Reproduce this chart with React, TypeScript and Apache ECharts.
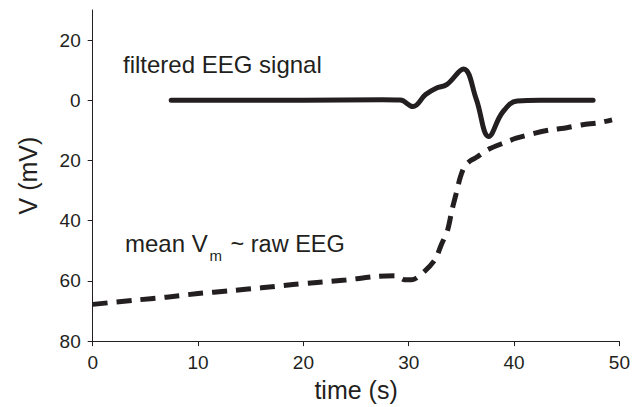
import React, { useEffect, useRef } from "react";
import * as echarts from "echarts";

const xTicks = [0, 10, 20, 30, 40, 50];
const yTicks = [-80, -60, -40, -20, 0, 20];

// filtered EEG signal (time s, mV)
const filteredEEG: [number, number][] = [
  [7.45, 0], [20, 0], [27.5, 0.2], [29.2, 0.1], [30.4, -2.1], [31.6, 1.9], [32.6, 4.0],
  [33.6, 5.2], [35.2, 10.4], [36.4, 0.5], [37.6, -12], [38.9, -4], [40.3, -0.2], [42.5, 0],
  [47.5, 0],
];

// mean Vm ~ raw EEG (time s, mV)
const rawEEG: [number, number][] = [
  [0, -67.8], [4, -66.4], [7, -65.4], [10, -64.2], [13, -63.3], [16, -62.3], [19, -61.2],
  [21, -60.6], [24, -59.7], [27, -58.5], [28.8, -58.3], [29.6, -59.6], [30.3, -59.6],
  [31.5, -56.8], [32.5, -52.9], [33.1, -47.9], [33.7, -43], [34.1, -36.5], [34.5, -31],
  [34.9, -25.5], [35.3, -22], [35.8, -20.2], [36.4, -19], [37.5, -16.4], [39, -14.2],
  [40.2, -12.6], [42, -10.9], [43.5, -9.8], [45, -9.1], [46.5, -8.1], [48, -7.5], [49.3, -6.5],
];

const FONT = "'Liberation Sans', Arial, Helvetica, sans-serif";
const INK = "#231f20";

export default function App() {
  const ref = useRef<HTMLDivElement>(null);
  useEffect(() => {
    if (!ref.current) return;
    const chart = echarts.init(ref.current, undefined, { renderer: "svg" });
    chart.setOption({
      animation: false,
      backgroundColor: "#ffffff",
      grid: { left: 92.7, right: 12.3, top: 10, bottom: 64.3, containLabel: false },
      xAxis: {
        type: "value",
        min: 0,
        max: 50,
        interval: 10,
        name: "time (s)",
        nameLocation: "middle",
        nameGap: 35,
        nameTextStyle: { fontFamily: FONT, fontSize: 25, color: INK },
        axisLine: { show: true, onZero: false, lineStyle: { color: INK, width: 1 } },
        axisTick: { show: true, length: 5, inside: false, lineStyle: { color: INK } },
        axisLabel: { fontFamily: FONT, fontSize: 19, color: INK, margin: 12 },
        splitLine: { show: false },
      },
      yAxis: {
        type: "value",
        min: -80,
        max: 30,
        name: "V (mV)",
        nameLocation: "middle",
        nameGap: 52,
        nameTextStyle: { fontFamily: FONT, fontSize: 25, color: INK },
        axisLine: { show: true, onZero: false, lineStyle: { color: INK, width: 1 } },
        axisTick: { show: true, length: 5, inside: false, customValues: yTicks, lineStyle: { color: INK } },
        axisLabel: {
          fontFamily: FONT,
          fontSize: 19,
          color: INK,
          margin: 12,
          customValues: yTicks,
          formatter: (v: number) => String(Math.abs(v)),
        },
        splitLine: { show: false },
      },
      series: [
        {
          type: "line",
          name: "filtered EEG signal",
          data: filteredEEG,
          showSymbol: false,
          smooth: 0.4,
          lineStyle: { color: INK, width: 5, cap: "round", join: "round" },
        },
        {
          type: "line",
          name: "mean Vm ~ raw EEG",
          data: rawEEG,
          showSymbol: false,
          smooth: 0.3,
          lineStyle: { color: INK, width: 5, type: [15, 9], cap: "butt" },
        },
      ],
      graphic: [
        {
          type: "text",
          x: 123,
          y: 64.7,
          style: { text: "filtered EEG signal", fontFamily: FONT, fontSize: 24, fill: INK, verticalAlign: "middle" },
        },
        {
          type: "text",
          x: 125,
          y: 243.7,
          style: { text: "mean V", fontFamily: FONT, fontSize: 24, fill: INK, verticalAlign: "middle" },
        },
        {
          type: "text",
          x: 209.5,
          y: 255,
          style: { text: "m", fontFamily: FONT, fontSize: 15, fill: INK, verticalAlign: "middle" },
        },
        {
          type: "text",
          x: 230.5,
          y: 243.7,
          style: { text: "~ raw EEG", fontFamily: FONT, fontSize: 23.5, fill: INK, verticalAlign: "middle" },
        },
      ],
    });
    return () => chart.dispose();
  }, []);
  return (
    <div
      ref={ref}
      style={{ position: "fixed", left: 0, top: 0, width: 633, height: 407, background: "#fff" }}
    />
  );
}
